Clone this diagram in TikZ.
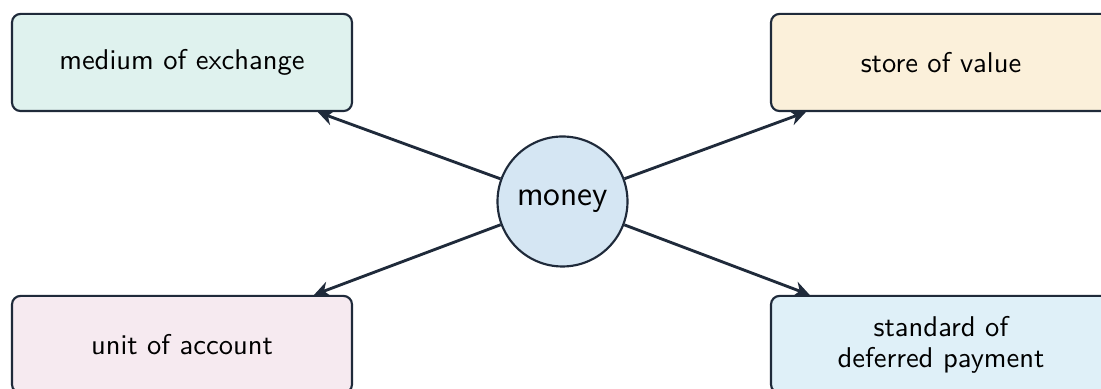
\documentclass[tikz,border=0pt]{standalone}
\usetikzlibrary{arrows.meta}
\definecolor{ink}{HTML}{1F2A3A}
\definecolor{exchbg}{HTML}{DFF2EE}
\definecolor{storebg}{HTML}{FBF0DA}
\definecolor{unitbg}{HTML}{F6EAF0}
\definecolor{defbg}{HTML}{DFF0F8}
\definecolor{hubbg}{HTML}{D5E6F3}
\tikzset{
    role/.style={
        draw=ink, line width=0.75pt,
        rounded corners=3pt,
        minimum width=119pt, minimum height=34pt,
        align=center, font=\sffamily
    },
    hub/.style={
        circle, draw=ink, fill=hubbg, line width=0.75pt,
        minimum size=45.5pt, inner sep=0pt,
        font=\sffamily\large
    },
    link/.style={draw=ink, line width=1pt, -{Stealth[length=5.5pt,width=5.5pt]}}
}

\begin{document}
\begin{tikzpicture}[x=0.35pt,y=-0.35pt]
    \useasboundingbox (0,0) rectangle (1101,389);
    \node[hub] (money) at (562.5,201.5) {money};
    \node[role,fill=exchbg] (exchange) at (182,62.5) {medium of exchange};
    \node[role,fill=storebg] (store) at (941,62.5) {store of value};
    \node[role,fill=unitbg] (unit) at (182,344.5) {unit of account};
    \node[role,fill=defbg] (deferred) at (941,344.5) {standard of\\[-1.2pt]deferred payment};
    % arrows out of the hub
    \foreach \target in {exchange,store,unit,deferred}
        \draw[link] (money) -- (\target);
\end{tikzpicture}
\end{document}
